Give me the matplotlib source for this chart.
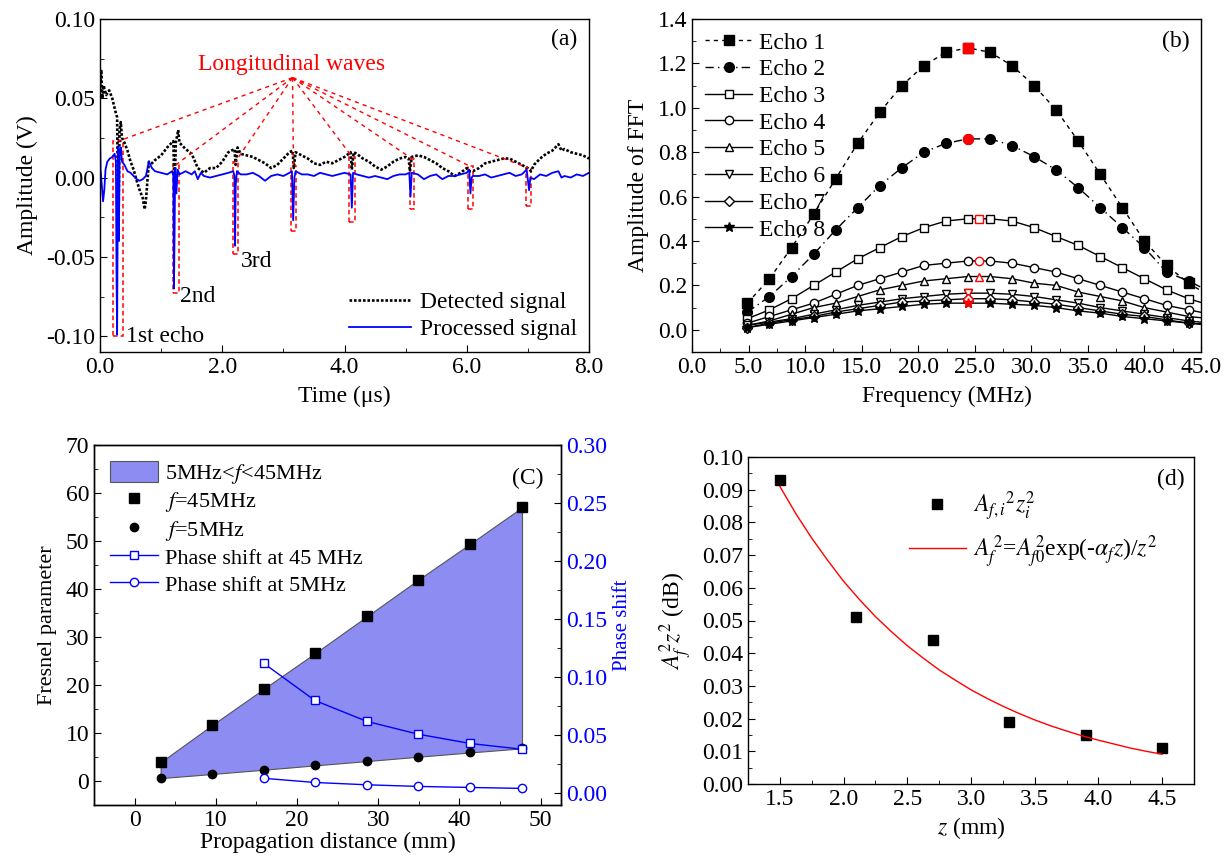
import matplotlib
matplotlib.use('Agg')
import matplotlib.pyplot as plt
from matplotlib.ticker import MultipleLocator, FormatStrFormatter
from matplotlib.patches import Rectangle

plt.rcParams['font.family'] = ['Liberation Serif', 'DejaVu Serif']
plt.rcParams['mathtext.fontset'] = 'stix'
plt.rcParams['font.size'] = 17
plt.rcParams['axes.unicode_minus'] = False
plt.rcParams['xtick.direction'] = 'in'
plt.rcParams['ytick.direction'] = 'in'
plt.rcParams['axes.linewidth'] = 1.0

FS = 17

# ---------------- data: panel (a) ----------------
t_detected = [0.00, 0.02, 0.04, 0.06, 0.10, 0.15, 0.20, 0.25, 0.28, 0.30, 0.32, 0.34, 0.36, 0.40,
              0.45, 0.50, 0.55, 0.60, 0.65, 0.70, 0.73, 0.75, 0.77, 0.80, 0.85, 0.90, 1.00, 1.10,
              1.20, 1.22, 1.24, 1.28, 1.30, 1.40, 1.50, 1.60, 1.70, 1.80, 1.90, 2.00, 2.10, 2.20,
              2.22, 2.25, 2.30, 2.40, 2.50, 2.60, 2.70, 2.80, 2.90, 3.00, 3.10, 3.15, 3.17, 3.20,
              3.30, 3.40, 3.50, 3.60, 3.70, 3.80, 3.90, 4.00, 4.10, 4.12, 4.15, 4.20, 4.30, 4.40,
              4.50, 4.60, 4.70, 4.80, 4.90, 5.00, 5.05, 5.07, 5.10, 5.20, 5.30, 5.40, 5.50, 5.60,
              5.70, 5.80, 5.90, 6.00, 6.05, 6.10, 6.20, 6.30, 6.40, 6.50, 6.60, 6.70, 6.80, 6.90,
              7.00, 7.05, 7.10, 7.20, 7.30, 7.40, 7.50, 7.55, 7.60, 7.70, 7.80, 7.90, 8.00]
v_detected = [0.055, 0.068, 0.050, 0.058, 0.052, 0.055, 0.050, 0.042, 0.038, -0.037, 0.030, 0.035, 0.025, 0.022,
              0.017, 0.010, 0.005, -0.002, -0.008, -0.013, -0.020, -0.015, -0.005, 0.010, 0.009, 0.011, 0.014, 0.019,
              0.023, -0.010, 0.022, 0.030, 0.022, 0.018, 0.015, 0.006, 0.003, 0.006, 0.006, 0.010, 0.016, 0.018,
              0.008, 0.019, 0.015, 0.014, 0.013, 0.011, 0.009, 0.006, 0.008, 0.012, 0.016, 0.017, 0.006, 0.016,
              0.014, 0.012, 0.009, 0.008, 0.010, 0.009, 0.011, 0.013, 0.016, 0.005, 0.016, 0.015, 0.012, 0.010,
              0.007, 0.005, 0.007, 0.010, 0.012, 0.013, 0.012, 0.004, 0.013, 0.014, 0.013, 0.011, 0.009, 0.006,
              0.004, 0.001, 0.003, 0.006, 0.004, 0.004, 0.006, 0.009, 0.010, 0.011, 0.012, 0.012, 0.010, 0.008,
              0.006, 0.004, 0.008, 0.012, 0.015, 0.017, 0.021, 0.017, 0.018, 0.016, 0.015, 0.014, 0.012]

t_processed = [0.00, 0.01, 0.03, 0.05, 0.07, 0.09, 0.12, 0.16, 0.20, 0.24, 0.26, 0.27, 0.28, 0.29, 0.30,
               0.31, 0.32, 0.34, 0.36, 0.40, 0.45, 0.50, 0.55, 0.60, 0.65, 0.70, 0.75, 0.80, 0.85, 0.90,
               1.00, 1.10, 1.18, 1.20, 1.21, 1.22, 1.23, 1.25, 1.27, 1.30, 1.40, 1.50, 1.55, 1.60, 1.65,
               1.70, 1.80, 1.90, 2.00, 2.10, 2.18, 2.20, 2.21, 2.22, 2.24, 2.30, 2.40, 2.50, 2.60, 2.70,
               2.80, 2.90, 3.00, 3.10, 3.14, 3.16, 3.18, 3.20, 3.30, 3.40, 3.50, 3.60, 3.70, 3.80, 3.90,
               4.00, 4.10, 4.12, 4.14, 4.20, 4.30, 4.40, 4.50, 4.60, 4.70, 4.80, 4.90, 5.00, 5.06, 5.08,
               5.10, 5.20, 5.30, 5.40, 5.50, 5.60, 5.70, 5.80, 5.90, 6.00, 6.04, 6.06, 6.08, 6.10, 6.20,
               6.30, 6.40, 6.50, 6.60, 6.70, 6.80, 6.90, 6.98, 7.02, 7.04, 7.10, 7.20, 7.30, 7.40, 7.50,
               7.55, 7.60, 7.70, 7.80, 7.90, 8.00]
v_processed = [0.030, 0.005, -0.005, -0.015, -0.008, 0.005, 0.010, 0.012, 0.013, 0.015, 0.010, -0.060, -0.099, -0.020, 0.020,
               -0.040, 0.015, 0.019, 0.010, 0.008, 0.004, 0.003, 0.001, -0.001, -0.002, -0.001, 0.001, 0.010, 0.006, 0.004,
               0.003, 0.002, 0.004, 0.001, -0.070, -0.035, 0.006, -0.010, 0.005, 0.002, 0.004, 0.002, 0.004, -0.001, 0.003,
               0.001, 0.000, 0.001, 0.002, 0.003, 0.004, 0.001, -0.043, -0.005, 0.004, 0.002, 0.002, 0.003, 0.001, -0.002,
               0.001, 0.002, 0.001, 0.003, 0.004, -0.027, 0.000, 0.004, 0.002, 0.002, 0.001, 0.003, 0.002, 0.001, 0.002,
               0.003, 0.002, -0.019, 0.003, 0.002, 0.001, 0.000, 0.001, 0.000, -0.001, 0.001, 0.002, 0.002, 0.003, -0.012,
               0.003, 0.002, -0.001, 0.001, 0.002, -0.001, 0.001, 0.001, 0.002, 0.003, 0.005, -0.010, 0.000, 0.001, 0.001,
               0.002, 0.000, 0.001, 0.002, 0.003, 0.001, 0.002, 0.005, -0.008, 0.000, -0.001, 0.002, 0.001, 0.003, 0.004,
               0.000, 0.001, 0.000, 0.002, 0.001, 0.003]

# echo windows (annotation boxes): left, right, top, bottom
echo_left = [0.22, 1.19, 2.18, 3.13, 4.08, 5.07, 6.02, 6.97]
echo_right = [0.38, 1.29, 2.25, 3.20, 4.17, 5.13, 6.10, 7.05]
echo_top = [0.023, 0.008, 0.010, 0.007, 0.013, 0.012, 0.007, 0.006]
echo_bottom = [-0.100, -0.073, -0.048, -0.034, -0.028, -0.020, -0.020, -0.018]

# ---------------- data: panel (b) ----------------
freq = [4.9, 6.85, 8.8, 10.75, 12.7, 14.65, 16.6, 18.55, 20.5, 22.45, 24.4, 26.35, 28.3, 30.25,
        32.2, 34.15, 36.1, 38.05, 40.0, 41.95, 43.9, 45.85]
echo1 = [0.12, 0.23, 0.37, 0.52, 0.68, 0.84, 0.98, 1.10, 1.19, 1.25, 1.27, 1.25, 1.19, 1.10,
         0.99, 0.85, 0.70, 0.55, 0.40, 0.29, 0.21, 0.15]
echo2 = [0.08, 0.15, 0.24, 0.34, 0.45, 0.55, 0.65, 0.73, 0.80, 0.84, 0.86, 0.86, 0.83, 0.78,
         0.72, 0.64, 0.55, 0.46, 0.37, 0.26, 0.22, 0.17]
echo3 = [0.05, 0.09, 0.14, 0.20, 0.26, 0.32, 0.37, 0.42, 0.46, 0.49, 0.50, 0.50, 0.49, 0.46,
         0.42, 0.38, 0.33, 0.28, 0.23, 0.18, 0.14, 0.11]
echo4 = [0.03, 0.06, 0.09, 0.12, 0.16, 0.20, 0.23, 0.26, 0.29, 0.30, 0.31, 0.31, 0.30, 0.28,
         0.26, 0.23, 0.20, 0.17, 0.14, 0.11, 0.09, 0.07]
echo5 = [0.02, 0.04, 0.07, 0.10, 0.12, 0.15, 0.18, 0.20, 0.22, 0.23, 0.24, 0.24, 0.23, 0.21,
         0.20, 0.17, 0.15, 0.13, 0.10, 0.08, 0.06, 0.05]
echo6 = [0.02, 0.035, 0.05, 0.07, 0.09, 0.11, 0.125, 0.14, 0.15, 0.16, 0.165, 0.165, 0.16, 0.15,
         0.135, 0.12, 0.10, 0.085, 0.07, 0.055, 0.04, 0.03]
echo7 = [0.01, 0.03, 0.045, 0.06, 0.08, 0.095, 0.11, 0.125, 0.13, 0.135, 0.14, 0.14, 0.135, 0.125,
         0.115, 0.10, 0.085, 0.07, 0.06, 0.045, 0.03, 0.025]
echo8 = [0.01, 0.025, 0.04, 0.055, 0.07, 0.085, 0.095, 0.105, 0.115, 0.12, 0.12, 0.12, 0.115, 0.11,
         0.10, 0.085, 0.075, 0.06, 0.05, 0.04, 0.03, 0.02]
echo_labels = ['Echo 1', 'Echo 2', 'Echo 3', 'Echo 4', 'Echo 5', 'Echo 6', 'Echo 7', 'Echo 8']
peak_freq = [24.4, 24.4, 25.4, 25.4, 25.4, 24.4, 24.4, 24.4]
peak_amp = [1.27, 0.86, 0.50, 0.31, 0.24, 0.165, 0.14, 0.12]

# ---------------- data: panel (c) ----------------
distance = [3.2, 9.5, 15.9, 22.2, 28.6, 34.9, 41.3, 47.7]
fresnel_45 = [3.9, 11.6, 19.2, 26.6, 34.3, 41.9, 49.4, 57.0]
fresnel_5 = [0.6, 1.45, 2.35, 3.25, 4.15, 5.05, 5.95, 6.8]
phase_distance = [15.9, 22.2, 28.6, 34.9, 41.3, 47.7]
phase_45 = [0.112, 0.080, 0.062, 0.051, 0.043, 0.038]
phase_5 = [0.013, 0.0094, 0.0074, 0.006, 0.0051, 0.0043]

# ---------------- data: panel (d) ----------------
z_meas = [1.5, 2.1, 2.7, 3.3, 3.9, 4.5]
Az_meas = [0.093, 0.051, 0.044, 0.019, 0.015, 0.011]
z_fit = [1.5, 1.625, 1.75, 1.875, 2.0, 2.125, 2.25, 2.375, 2.5, 2.625, 2.75, 2.875, 3.0,
         3.125, 3.25, 3.375, 3.5, 3.625, 3.75, 3.875, 4.0, 4.125, 4.25, 4.375, 4.5]
Az_fit = [0.0910, 0.0827, 0.0752, 0.0684, 0.0620, 0.0564, 0.0512, 0.0466, 0.0423, 0.0385, 0.0349,
          0.0318, 0.0288, 0.0262, 0.0238, 0.0216, 0.0196, 0.0178, 0.0162, 0.0147, 0.0134, 0.0122,
          0.0110, 0.0100, 0.0091]

W, H = 1229, 857
fig = plt.figure(figsize=(W / 100, H / 100), dpi=100)


def add_ax(l, t, r, b):
    return fig.add_axes([l / W, 1 - b / H, (r - l) / W, (b - t) / H])


def style(ax):
    ax.tick_params(which='both', top=False, right=False, labelsize=FS)
    ax.tick_params(which='major', length=5)
    ax.tick_params(which='minor', length=3)


# ================= panel (a) =================
axa = add_ax(100, 19, 589, 352)
axa.plot(t_detected, v_detected, color='black', ls=(0, (1, 0.7)), lw=1.9, label='Detected signal')
axa.plot(t_processed, v_processed, color='blue', lw=1.3, label='Processed signal')
apex = (3.15, 0.063)
for l, r, tp, bt in zip(echo_left, echo_right, echo_top, echo_bottom):
    axa.add_patch(Rectangle((l, bt), r - l, tp - bt, fill=False, ec='red', ls=(0, (3, 2)), lw=1.1))
    axa.plot([apex[0], (l + r) / 2], [apex[1], tp], color='red', ls=(0, (3, 3)), lw=1.0)
axa.text(3.13, 0.0715, 'Longitudinal waves', color='red', ha='center', va='center', fontsize=FS)
axa.text(0.42, -0.100, '1st echo', ha='left', va='center', fontsize=FS)
axa.text(1.31, -0.075, '2nd', ha='left', va='center', fontsize=FS)
axa.text(2.3, -0.053, '3rd', ha='left', va='center', fontsize=FS)
axa.text(7.8, 0.087, '(a)', ha='right', va='center', fontsize=FS)
axa.set_xlim(0, 8)
axa.set_ylim(-0.11, 0.10)
axa.xaxis.set_major_locator(MultipleLocator(2))
axa.xaxis.set_minor_locator(MultipleLocator(1))
axa.xaxis.set_major_formatter(FormatStrFormatter('%.1f'))
axa.yaxis.set_major_locator(MultipleLocator(0.05))
axa.yaxis.set_minor_locator(MultipleLocator(0.025))
axa.yaxis.set_major_formatter(FormatStrFormatter('%.2f'))
axa.set_xlabel('Time (\u03bcs)', fontsize=FS, labelpad=6)
axa.set_ylabel('Amplitude (V)', fontsize=FS, labelpad=6)
style(axa)
axa.legend(loc='lower right', frameon=False, fontsize=FS, handlelength=2.6,
           borderaxespad=0.1, labelspacing=0.25, handletextpad=0.4)

# ================= panel (b) =================
axb = add_ax(692, 19, 1201, 352)
series_b = [echo1, echo2, echo3, echo4, echo5, echo6, echo7, echo8]
markers = ['s', 'o', 's', 'o', '^', 'v', 'D', '*']
lss = [(0, (3, 3)), (0, (6, 3, 1, 3)), '-', '-', '-', '-', '-', '-']
fills = ['black', 'black', 'white', 'white', 'white', 'white', 'white', 'black']
sizes = [7, 7, 6, 6, 6, 6, 5, 7]
for ys, lab, mk, ls, fc, ms in zip(series_b, echo_labels, markers, lss, fills, sizes):
    axb.plot(freq, ys, color='black', ls=ls, lw=1.0, marker=mk, mfc=fc, mec='black',
             ms=ms, mew=1.0, label=lab)
for px, py, mk, fc, ms in zip(peak_freq, peak_amp, markers, fills, sizes):
    axb.plot([px], [py], ls='none', marker=mk, mfc=('red' if fc == 'black' else 'white'),
             mec='red', ms=ms, mew=1.0)
axb.set_xlim(0, 45)
axb.set_ylim(-0.1, 1.4)
axb.xaxis.set_major_locator(MultipleLocator(5))
axb.xaxis.set_minor_locator(MultipleLocator(2.5))
axb.xaxis.set_major_formatter(FormatStrFormatter('%.1f'))
axb.yaxis.set_major_locator(MultipleLocator(0.2))
axb.yaxis.set_minor_locator(MultipleLocator(0.1))
axb.yaxis.set_major_formatter(FormatStrFormatter('%.1f'))
axb.set_xlabel('Frequency (MHz)', fontsize=FS, labelpad=6)
axb.set_ylabel('Amplitude of FFT', fontsize=FS, labelpad=6)
axb.text(44, 1.3, '(b)', ha='right', va='center', fontsize=FS)
style(axb)
axb.legend(loc='upper left', frameon=False, fontsize=FS, handlelength=2.0,
           borderaxespad=0.15, labelspacing=0.22, handletextpad=0.3)

# ================= panel (c) =================
axc = add_ax(94, 445, 561, 805)
axc2 = axc.twinx()
fill = axc.fill_between(distance, fresnel_45, fresnel_5, facecolor='#8c8cf2', edgecolor='#555555',
                        lw=0.8, label='5MHz<$f$<45MHz')
h45, = axc.plot(distance, fresnel_45, 's', color='black', ms=7, label='$f$=45MHz')
h5, = axc.plot(distance, fresnel_5, 'o', color='black', ms=6, label='$f$=5MHz')
p45, = axc2.plot(phase_distance, phase_45, '-', color='blue', lw=1.0, marker='s', mfc='white',
                 mec='blue', ms=6, label='Phase shift at 45 MHz')
p5, = axc2.plot(phase_distance, phase_5, '-', color='blue', lw=1.0, marker='o', mfc='white',
                mec='blue', ms=6, label='Phase shift at 5MHz')
axc.set_xlim(-5, 52.5)
axc.set_ylim(-5, 70)
axc2.set_ylim(-0.01, 0.30)
axc.xaxis.set_major_locator(MultipleLocator(10))
axc.xaxis.set_minor_locator(MultipleLocator(5))
axc.yaxis.set_major_locator(MultipleLocator(10))
axc.yaxis.set_minor_locator(MultipleLocator(5))
axc2.yaxis.set_major_locator(MultipleLocator(0.05))
axc2.yaxis.set_minor_locator(MultipleLocator(0.025))
axc2.yaxis.set_major_formatter(FormatStrFormatter('%.2f'))
axc.tick_params(which='both', top=False, right=False, labelsize=FS)
axc.tick_params(which='major', length=5)
axc.tick_params(which='minor', length=3)
axc2.tick_params(which='both', labelsize=FS, labelcolor='blue')
axc2.tick_params(which='major', length=5)
axc2.tick_params(which='minor', length=3)
axc.set_xlabel('Propagation distance (mm)', fontsize=FS, labelpad=1)
axc.set_ylabel('Fresnel parameter', fontsize=16, labelpad=6)
axc2.set_ylabel('Phase shift', fontsize=15, color='blue', labelpad=4)
axc.text(50.3, 63, '(C)', ha='right', va='center', fontsize=FS)
axc.legend(handles=[fill, h45, h5, p45, p5], loc='upper left', frameon=False, fontsize=16,
           handlelength=2.2, handleheight=1.1, borderaxespad=0.3, labelspacing=0.15,
           handletextpad=0.3)

# ================= panel (d) =================
axd = add_ax(748, 457, 1194, 784)
axd.plot(z_meas, Az_meas, 's', color='black', ms=7, label='$A_{f,i}{}^{2}z_{i}^{2}$')
axd.plot(z_fit, Az_fit, '-', color='red', lw=1.0,
         label='$A_f^{\\,2}$=$A_{f0}^{\\,2}$exp(-$\\alpha_f z$)/$z^2$')
axd.set_xlim(1.25, 4.75)
axd.set_ylim(0, 0.10)
axd.xaxis.set_major_locator(MultipleLocator(0.5))
axd.xaxis.set_minor_locator(MultipleLocator(0.25))
axd.xaxis.set_major_formatter(FormatStrFormatter('%.1f'))
axd.yaxis.set_major_locator(MultipleLocator(0.01))
axd.yaxis.set_minor_locator(MultipleLocator(0.005))
axd.yaxis.set_major_formatter(FormatStrFormatter('%.2f'))
axd.set_xlabel('$z$ (mm)', fontsize=FS, labelpad=4)
axd.set_ylabel('$A_f^{2}z^{2}$ (dB)', fontsize=FS, labelpad=6)
axd.text(4.68, 0.093, '(d)', ha='right', va='center', fontsize=FS)
style(axd)
axd.legend(loc='upper left', bbox_to_anchor=(0.34, 0.93), frameon=False, fontsize=FS,
           handlelength=2.4, labelspacing=0.45, handletextpad=0.3, borderaxespad=0)

fig.savefig('out.png', dpi=100)
